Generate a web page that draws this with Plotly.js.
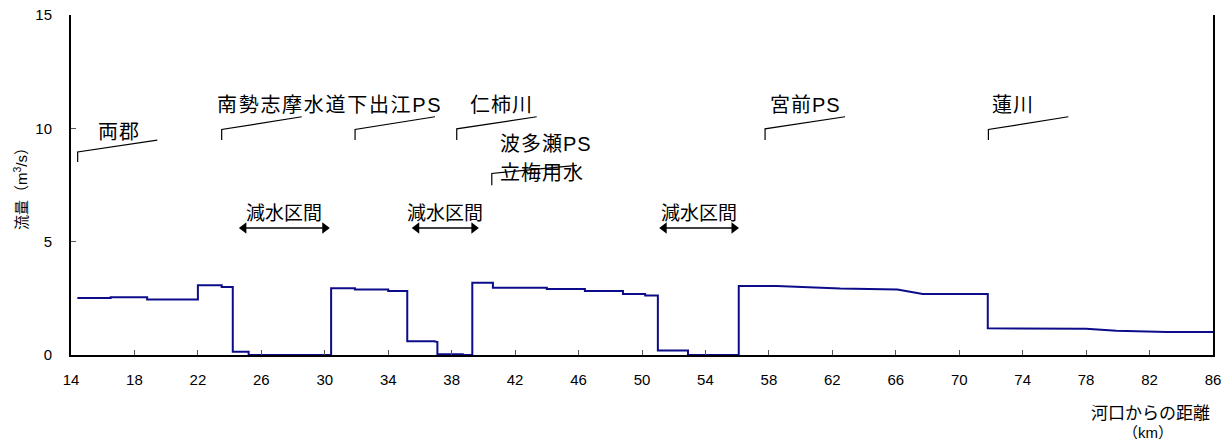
<!DOCTYPE html>
<html>
<head>
<meta charset="utf-8">
<script src="https://cdn.plot.ly/plotly-3.0.1.min.js"></script>
<style>
html,body{margin:0;padding:0;background:#fff;}
#chart{width:1229px;height:447px;}
</style>
</head>
<body>
<div id="chart"></div>
<script>
// ---- data ----
// distance from river mouth (km) and flow (m3/s), polyline vertices of the flow profile
var distanceKm = [14.4, 16.5, 16.5, 18.8, 18.8, 22.0, 22.0, 23.5, 23.5, 24.2, 24.2, 25.2, 25.2, 30.4, 30.4, 31.9, 31.9, 34.0, 34.0, 35.2, 35.2, 36.9, 37.1, 37.1, 38.7, 38.7, 39.3, 39.3, 40.6, 40.6, 44.0, 44.0, 46.4, 46.4, 48.8, 48.8, 50.2, 50.2, 51.0, 51.0, 52.9, 52.9, 56.1, 56.1, 58.5, 62.5, 66.1, 67.7, 71.8, 71.8, 78.0, 79.9, 83.1, 86.0];
var flowM3s    = [2.51, 2.51, 2.55, 2.55, 2.45, 2.45, 3.08, 3.08, 3.00, 3.00, 0.14, 0.14, 0.00, 0.00, 2.95, 2.95, 2.89, 2.89, 2.82, 2.82, 0.61, 0.61, 0.57, 0.03, 0.03, 0.00, 0.00, 3.19, 3.19, 2.97, 2.97, 2.91, 2.91, 2.82, 2.82, 2.69, 2.69, 2.63, 2.63, 0.20, 0.20, 0.00, 0.00, 3.04, 3.04, 2.93, 2.89, 2.69, 2.69, 1.18, 1.16, 1.07, 1.01, 1.01];

// point labels along the river
var pointNames = ["両郡", "南勢志摩水道下出江PS", "仁柿川", "波多瀬PS", "立梅用水", "宮前PS", "蓮川"];
// reduced-flow sections (km from / km to)
var sectionLabel = "減水区間";
var sectionStartKm = [24.6, 35.5, 51.1];
var sectionEndKm   = [30.3, 39.7, 56.1];

var yTickVals = [0, 5, 10, 15];
var xTickVals = [14, 18, 22, 26, 30, 34, 38, 42, 46, 50, 54, 58, 62, 66, 70, 74, 78, 82, 86];

// ---- label placement (layout, in data units) ----
var labelPos = [
  {x: 15.55, y: 9.83, sp: 1.0},
  {x: 23.1, y: 11.03, sp: 1.7},
  {x: 39.0, y: 11.03, sp: 1.0},
  {x: 40.95, y: 9.33, sp: 1.0},
  {x: 40.95, y: 8.05, sp: 1.0},
  {x: 57.95, y: 11.03, sp: 1.0},
  {x: 71.95, y: 11.03, sp: 1.0}
];
// leader lines: vertical tick at xv from yb to yt, then slanted to (xe, ye)
var leaders = [
  {xv: 14.42, yb: 8.52, yt: 8.96, xe: 19.44, ye: 9.48},
  {xv: 23.50, yb: 9.48, yt: 9.95, xe: 28.55, ye: 10.51},
  {xv: 31.91, yb: 9.48, yt: 9.95, xe: 36.95, ye: 10.51},
  {xv: 38.32, yb: 9.48, yt: 9.98, xe: 43.36, ye: 10.51},
  {xv: 40.53, yb: 7.49, yt: 8.01, xe: 45.89, ye: 8.37},
  {xv: 57.76, yb: 9.48, yt: 9.98, xe: 62.80, ye: 10.51},
  {xv: 71.84, yb: 9.48, yt: 9.95, xe: 76.88, ye: 10.51}
];
var sectionTextY = 6.25, sectionArrowY = 5.60, headInset = 0.3;

var FONT = "'Liberation Sans', 'Noto Sans CJK JP', sans-serif";

var lx = [], ly = [];
leaders.forEach(function(l){
  lx.push(l.xv, l.xv, l.xe, null);
  ly.push(l.yb, l.yt, l.ye, null);
});

// double arrows for reduced-flow sections
var ax = [], ay = [], hx = [], hy = [], hs = [];
sectionStartKm.forEach(function(s, i){
  var e = sectionEndKm[i];
  ax.push(s + headInset, e - headInset, null);
  ay.push(sectionArrowY, sectionArrowY, null);
  hx.push(s + headInset, e - headInset);
  hy.push(sectionArrowY, sectionArrowY);
  hs.push('triangle-left', 'triangle-right');
});

var traces = [
  {x: distanceKm, y: flowM3s, mode: 'lines', type: 'scatter',
   line: {color: '#0c0c8a', width: 2}, hoverinfo: 'x+y', showlegend: false},
  {x: lx, y: ly, mode: 'lines', type: 'scatter',
   line: {color: '#000', width: 1.2}, hoverinfo: 'skip', showlegend: false},
  {x: ax, y: ay, mode: 'lines', type: 'scatter',
   line: {color: '#000', width: 1.6}, hoverinfo: 'skip', showlegend: false},
  {x: hx, y: hy, mode: 'markers', type: 'scatter',
   marker: {symbol: hs, size: 10, color: '#000', line: {width: 0}},
   hoverinfo: 'skip', showlegend: false}
];

var annotations = [];
pointNames.forEach(function(n, i){
  annotations.push({x: labelPos[i].x, y: labelPos[i].y, xref: 'x', yref: 'y',
    text: n, showarrow: false, xanchor: 'left', yanchor: 'middle',
    font: {family: FONT, size: 20, color: '#000'}});
});
sectionStartKm.forEach(function(s, i){
  var e = sectionEndKm[i];
  annotations.push({x: (s + e) / 2, y: sectionTextY, xref: 'x', yref: 'y',
    text: sectionLabel, showarrow: false, xanchor: 'center', yanchor: 'middle',
    font: {family: FONT, size: 19, color: '#000'}});
});
annotations.push({x: 0.945, y: -0.173, xref: 'paper', yref: 'paper',
  text: '河口からの距離', showarrow: false, xanchor: 'center', yanchor: 'middle',
  font: {family: FONT, size: 17, color: '#000'}});
annotations.push({x: 0.943, y: -0.229, xref: 'paper', yref: 'paper',
  text: '（km）', showarrow: false, xanchor: 'center', yanchor: 'middle',
  font: {family: FONT, size: 15, color: '#000'}});

var layout = {
  width: 1229, height: 447,
  margin: {l: 71, r: 16, t: 15, b: 92, pad: 0},
  paper_bgcolor: '#fff', plot_bgcolor: '#fff',
  showlegend: false,
  font: {family: FONT, size: 15, color: '#000'},
  xaxis: {range: [14, 86], tickvals: xTickVals, ticktext: xTickVals.map(String),
    ticks: 'inside', ticklen: 5, tickwidth: 1, tickcolor: '#555',
    showline: true, linecolor: '#000', linewidth: 2, mirror: false,
    showgrid: false, zeroline: false, ticklabelstandoff: 10,
    tickfont: {family: FONT, size: 15, color: '#000'}},
  yaxis: {range: [0, 15], tickvals: yTickVals, ticktext: yTickVals.map(String),
    ticks: 'inside', ticklen: 5, tickwidth: 1, tickcolor: '#555',
    showline: true, linecolor: '#000', linewidth: 2, mirror: true,
    showgrid: false, zeroline: false, ticklabelstandoff: 14,
    tickfont: {family: FONT, size: 15, color: '#000'},
    title: {text: '流量（m<sup>3</sup>/s）', standoff: 4,
      font: {family: FONT, size: 15, color: '#000'}}, automargin: false},
  annotations: annotations
};

Plotly.newPlot('chart', traces, layout, {displayModeBar: false, staticPlot: true}).then(function(gd){
  // widen character spacing of the place-name labels, keeping their left edge in place
  var nodes = gd.querySelectorAll('.annotation-text');
  nodes.forEach(function(t){
    var idx = pointNames.indexOf(t.textContent);
    if (idx < 0) return;
    var w0 = t.getBBox().width;
    t.style.letterSpacing = labelPos[idx].sp + 'px';
    var w1 = t.getBBox().width;
    var x0 = parseFloat(t.getAttribute('x')) || 0;
    t.setAttribute('x', x0 + (w1 - w0) / 2);
  });
});
</script>
</body>
</html>
